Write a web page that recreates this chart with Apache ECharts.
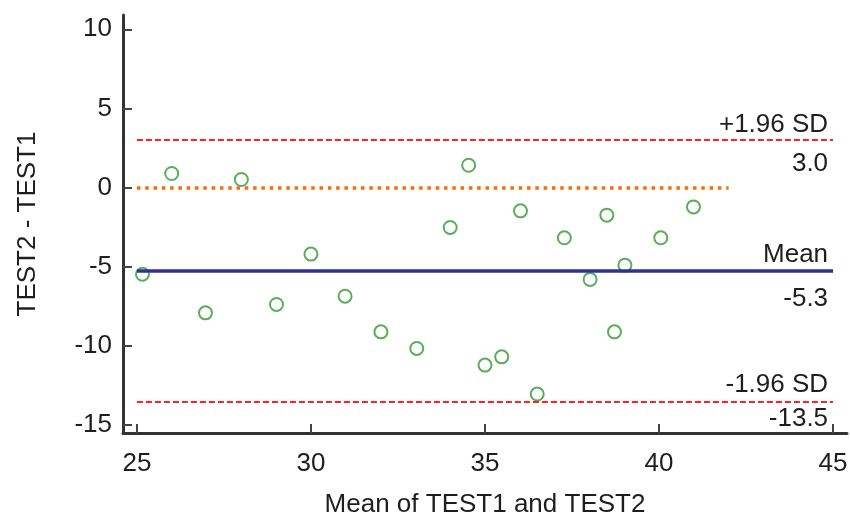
<!DOCTYPE html>
<html><head><meta charset="utf-8">
<script src="https://cdn.jsdelivr.net/npm/echarts@6/dist/echarts.min.js"></script>
<style>html,body{margin:0;padding:0;background:#fff}#c{width:850px;height:515px}</style>
</head><body><div id="c"></div>
<script>
// Bland-Altman data: mean of the two tests (x) and difference TEST2 - TEST1 (y)
const meanOfTests = [25.16, 26.0, 26.97, 28.0, 29.01, 30.0, 30.98, 32.01, 33.04, 34.0, 34.53,
                     35.0, 35.48, 36.02, 36.5, 37.28, 38.02, 38.5, 38.72, 39.02, 40.05, 40.99];
const differences = [-5.47, 0.89, -7.91, 0.51, -7.38, -4.2, -6.86, -9.11, -10.16, -2.52, 1.41,
                     -11.21, -10.69, -1.47, -13.04, -3.17, -5.80, -1.74, -9.11, -4.90, -3.17, -1.22];
const xTicks = [25, 30, 35, 40, 45];
const yTicks = [-15, -10, -5, 0, 5, 10];
const limitNames = ['+1.96 SD', 'Mean', '-1.96 SD'];
const limitValues = [3.0, -5.25, -13.5];
const limitTexts = ['3.0', '-5.3', '-13.5'];
const limitStart = 25, limitEnd = 45;
const zeroValue = 0, zeroStart = 25, zeroEnd = 42;

const FONT = 'Liberation Sans, Arial, sans-serif';
const TXT = '#1e1e1e';
const FS = 26;

const limitStyles = [
  {color: '#ff2222', width: 2, type: [6, 3]},
  {color: '#303090', width: 3.5, type: 'solid'},
  {color: '#ff2222', width: 2, type: [6, 3]}
];
const nameGapsAbove = [2.5, 3, 4];
const valueGapsBelow = [10.5, 15, 4];

const markLineData = [];
limitValues.forEach((v, i) => {
  markLineData.push([
    {coord: [limitStart, v], lineStyle: limitStyles[i],
     label: {show: true, position: 'insideEndTop', formatter: limitNames[i], distance: [5, nameGapsAbove[i]],
             color: TXT, fontSize: FS, fontFamily: FONT}},
    {coord: [limitEnd, v]}
  ]);
  markLineData.push([
    {coord: [limitStart, v], lineStyle: {color: 'rgba(0,0,0,0)', width: 0, type: 'solid'},
     label: {show: true, position: 'insideEndBottom', formatter: limitTexts[i], distance: [5, valueGapsBelow[i]],
             color: TXT, fontSize: FS, fontFamily: FONT}},
    {coord: [limitEnd, v]}
  ]);
});
markLineData.push([
  {coord: [zeroStart, zeroValue], lineStyle: {color: '#ff6a00', width: 3.5, type: [3.5, 4.8]},
   label: {show: false}},
  {coord: [zeroEnd, zeroValue]}
]);

const chart = echarts.init(document.getElementById('c'), null, {renderer: 'canvas'});
chart.setOption({
  animation: false,
  backgroundColor: '#fff',
  grid: {left: 123, right: 3, top: 15, bottom: 82, containLabel: false, outerBoundsMode: 'none'},
  xAxis: {
    type: 'value', min: 24.6, max: 45.4,
    name: 'Mean of TEST1 and TEST2', nameLocation: 'middle', nameGap: 59,
    nameTextStyle: {color: TXT, fontSize: FS, fontFamily: FONT},
    axisLine: {show: true, onZero: false, lineStyle: {color: '#333', width: 3}},
    axisTick: {show: true, inside: true, length: 9, customValues: xTicks, lineStyle: {color: '#444', width: 2}},
    axisLabel: {customValues: xTicks, margin: 18, color: TXT, fontSize: FS, fontFamily: FONT},
    splitLine: {show: false}
  },
  yAxis: {
    type: 'value', min: -15.5, max: 10.9,
    name: 'TEST2 - TEST1', nameLocation: 'middle', nameGap: 82,
    nameTextStyle: {color: TXT, fontSize: FS, fontFamily: FONT},
    axisLine: {show: true, onZero: false, lineStyle: {color: '#333', width: 3}},
    axisTick: {show: true, inside: true, length: 9, customValues: yTicks, lineStyle: {color: '#444', width: 2}},
    axisLabel: {customValues: yTicks, margin: 11, color: TXT, fontSize: FS, fontFamily: FONT},
    splitLine: {show: false}
  },
  series: [{
    type: 'scatter',
    data: meanOfTests.map((x, i) => [x, differences[i]]),
    symbol: 'emptyCircle',
    symbolSize: 13,
    itemStyle: {color: '#2f9a2f', borderColor: '#2f9a2f', borderWidth: 2.2},
    markLine: {silent: true, symbol: 'none', animation: false, data: markLineData},
    z: 3
  }]
});
</script></body></html>
